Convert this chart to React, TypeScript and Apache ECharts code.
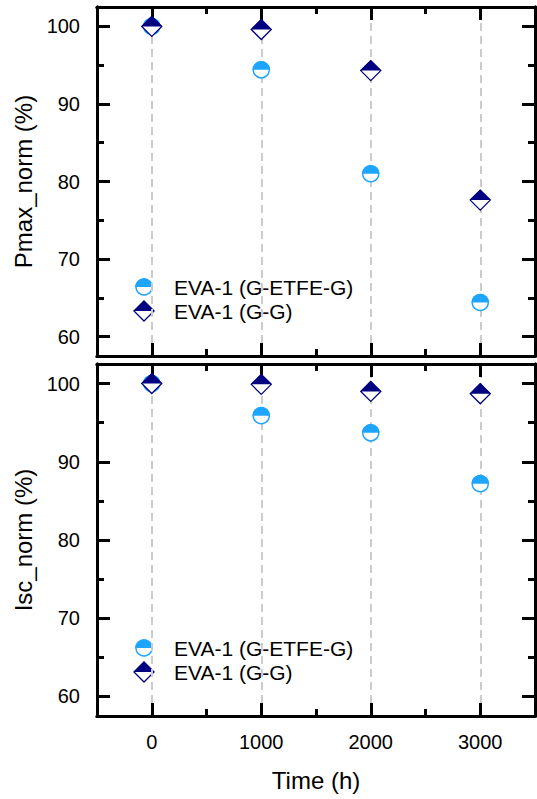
import React, { useEffect, useRef } from "react";
import * as echarts from "echarts";

// ---- data ----
const TIME = [0, 1000, 2000, 3000];
const PMAX_ETFE = [100, 94.4, 81.0, 64.4];
const PMAX_GG = [100, 99.6, 94.3, 77.6];
const ISC_ETFE = [100, 95.9, 93.7, 87.2];
const ISC_GG = [100, 99.9, 99.0, 98.7];
const X_MAJOR = [0, 1000, 2000, 3000];
const X_MINOR = [500, 1500, 2500];
const Y_MAJOR = [60, 70, 80, 90, 100];
const Y_MINOR = [65, 75, 85, 95];
const NAME_ETFE = "EVA-1 (G-ETFE-G)";
const NAME_GG = "EVA-1 (G-G)";

const BLUE = "#1EA5FF";
const NAVY = "#000080";
const FONT = "Arial";
const R = 8;
const D = 10;

function circleShapes(x: number, y: number) {
  return [
    { type: "circle", shape: { cx: x, cy: y, r: R }, style: { fill: "#fff", stroke: BLUE, lineWidth: 1.5 } },
    {
      type: "sector",
      shape: { cx: x, cy: y, r: R + 0.75, r0: 0, startAngle: Math.PI, endAngle: 2 * Math.PI, clockwise: true },
      style: { fill: BLUE },
    },
  ];
}
function diamondShapes(x: number, y: number) {
  return [
    {
      type: "polygon",
      shape: { points: [[x, y - D], [x + D, y], [x, y + D], [x - D, y]] },
      style: { fill: "#fff", stroke: NAVY, lineWidth: 1.3 },
    },
    {
      type: "polygon",
      shape: { points: [[x - D - 0.6, y], [x, y - D - 0.6], [x + D + 0.6, y]] },
      style: { fill: NAVY },
    },
  ];
}

function xAxes(gridIndex: number, labels: boolean) {
  const base = {
    type: "value",
    gridIndex,
    min: -500,
    max: 3500,
    z: 3,
    axisLine: { show: true, onZero: false, lineStyle: { color: "#000", width: 3 } },
    splitLine: { show: false },
  };
  const mk = (position: string, major: boolean, withLabel: boolean, extra: any = {}) => ({
    ...base,
    position,
    axisTick: {
      show: true,
      inside: true,
      length: major ? 13 : 7,
      lineStyle: { color: "#000", width: 3 },
      customValues: major ? X_MAJOR : X_MINOR,
    },
    axisLabel: {
      show: withLabel,
      customValues: X_MAJOR,
      margin: 16,
      fontSize: 20,
      fontFamily: FONT,
      color: "#000",
      formatter: (v: number) => String(v),
    },
    ...extra,
  });
  return [
    mk("bottom", true, labels, labels
      ? { name: "Time (h)", nameLocation: "middle", nameGap: 52, nameTextStyle: { fontSize: 24, fontFamily: FONT, color: "#000" } }
      : {}),
    mk("bottom", false, false),
    mk("top", true, false),
    mk("top", false, false),
  ];
}

function yAxes(gridIndex: number, name: string) {
  const base = {
    type: "value",
    gridIndex,
    min: 57.5,
    max: 102.5,
    z: 3,
    axisLine: { show: true, onZero: false, lineStyle: { color: "#000", width: 3 } },
    splitLine: { show: false },
  };
  const mk = (position: string, major: boolean, withLabel: boolean, extra: any = {}) => ({
    ...base,
    position,
    axisTick: {
      show: true,
      inside: true,
      length: major ? 13 : 7,
      lineStyle: { color: "#000", width: 3 },
      customValues: major ? Y_MAJOR : Y_MINOR,
    },
    axisLabel: {
      show: withLabel,
      customValues: Y_MAJOR,
      margin: 17,
      fontSize: 20,
      fontFamily: FONT,
      color: "#000",
      formatter: (v: number) => String(v),
    },
    ...extra,
  });
  return [
    mk("left", true, true, {
      name,
      nameLocation: "middle",
      nameGap: 62,
      nameTextStyle: { fontSize: 24, fontFamily: FONT, color: "#000" },
    }),
    mk("left", false, false),
    mk("right", true, false),
    mk("right", false, false),
  ];
}

function markerSeries(name: string, values: number[], axisIdx: number, kind: "circle" | "diamond", withGrid: boolean) {
  const s: any = {
    type: "custom",
    name,
    xAxisIndex: axisIdx,
    yAxisIndex: axisIdx,
    z: 10,
    data: TIME.map((t, i) => [t, values[i]]),
    renderItem: (_p: any, api: any) => {
      const pt = api.coord([api.value(0), api.value(1)]);
      return {
        type: "group",
        children: kind === "circle" ? circleShapes(pt[0], pt[1]) : diamondShapes(pt[0], pt[1]),
      };
    },
  };
  if (withGrid) {
    s.markLine = {
      silent: true,
      symbol: "none",
      z: 1,
      label: { show: false },
      lineStyle: { type: [8, 5], color: "#cccccc", width: 2 },
      data: X_MAJOR.map((v) => ({ xAxis: v })),
    };
  }
  return s;
}

function legendGraphics(x: number, y1: number, y2: number) {
  const textStyle = (text: string) => ({ text, fontSize: 21, fontFamily: FONT, fill: "#000", verticalAlign: "middle", align: "left" });
  return [
    ...circleShapes(x, y1),
    { type: "text", x: x + 30, y: y1, style: textStyle(NAME_ETFE) },
    ...diamondShapes(x, y2),
    { type: "text", x: x + 30, y: y2, style: textStyle(NAME_GG) },
  ];
}

export default function App() {
  const ref = useRef<HTMLDivElement>(null);
  useEffect(() => {
    if (!ref.current) return;
    const chart = echarts.init(ref.current, undefined, { renderer: "svg" });
    chart.setOption({
      animation: false,
      backgroundColor: "#fff",
      grid: [
        { left: 97, top: 7, width: 438, height: 349 },
        { left: 97, top: 364, width: 438, height: 352 },
      ],
      xAxis: [...xAxes(0, false), ...xAxes(1, true)],
      yAxis: [...yAxes(0, "Pmax_norm (%)"), ...yAxes(1, "Isc_norm (%)")],
      series: [
        markerSeries(NAME_ETFE, PMAX_ETFE, 0, "circle", true),
        markerSeries(NAME_GG, PMAX_GG, 0, "diamond", false),
        markerSeries(NAME_ETFE, ISC_ETFE, 4, "circle", true),
        markerSeries(NAME_GG, ISC_GG, 4, "diamond", false),
      ],
      graphic: [...legendGraphics(144, 287, 311), ...legendGraphics(144, 648, 672)],
    });
    return () => chart.dispose();
  }, []);
  return <div ref={ref} style={{ position: "fixed", left: 0, top: 0, width: 537, height: 799 }} />;
}
